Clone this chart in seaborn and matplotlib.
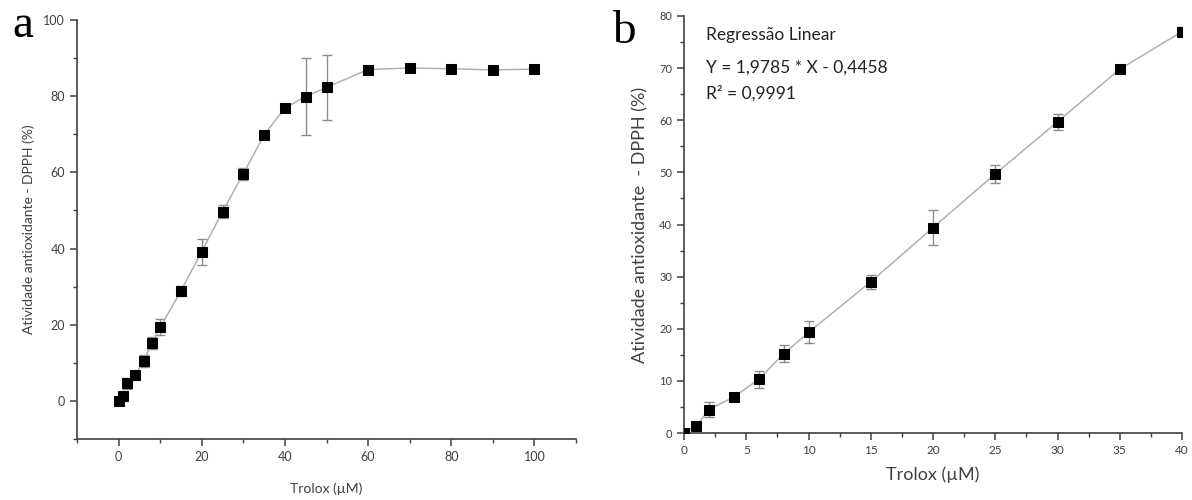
import numpy as np
import pandas as pd
import matplotlib
matplotlib.use('Agg')
import matplotlib.pyplot as plt
import seaborn as sns
from matplotlib.ticker import MultipleLocator

sns.set_theme(style='ticks')
plt.rcParams['font.family'] = ['Lato', 'DejaVu Sans']

# Panel a: full Trolox range
trolox_a = [0, 1, 2, 4, 6, 8, 10, 15, 20, 25, 30, 35, 40, 45, 50, 60, 70, 80, 90, 100]
dpph_a = [0.0, 1.3, 4.6, 6.9, 10.4, 15.2, 19.3, 28.9, 39.2, 49.7, 59.6, 69.8, 76.9,
          79.9, 82.3, 87.0, 87.4, 87.2, 86.9, 87.1]
err_a = [0.3, 0.4, 1.5, 0.5, 1.6, 1.6, 2.1, 1.3, 3.4, 1.7, 1.5, 0.5, 0.7,
         10.0, 8.5, 0.5, 0.4, 0.4, 0.4, 0.4]

# Panel b: linear range
trolox_b = [0, 1, 2, 4, 6, 8, 10, 15, 20, 25, 30, 35, 40]
dpph_b = [0.0, 1.3, 4.5, 6.9, 10.3, 15.2, 19.3, 29.0, 39.4, 49.7, 59.7, 69.8, 77.0]
err_b = [0.3, 0.4, 1.5, 0.5, 1.6, 1.6, 2.1, 1.3, 3.4, 1.7, 1.5, 0.5, 0.8]

df_a = pd.DataFrame({'x': trolox_a, 'y': dpph_a, 'err': err_a})
df_b = pd.DataFrame({'x': trolox_b, 'y': dpph_b, 'err': err_b})

LINE = '#b0b0b0'
ERR = '#8c8c8c'
AXC = '#404040'
TXT = '#404040'

fig = plt.figure(figsize=(11.92, 5), dpi=100)
ax_a = fig.add_axes([77 / 1192, (500 - 439) / 500, (576 - 77) / 1192, (439 - 20) / 500])
ax_b = fig.add_axes([684 / 1192, (500 - 433) / 500, (1182 - 684) / 1192, (433 - 16) / 500])


def draw(ax, df):
    ax.errorbar(df['x'], df['y'], yerr=df['err'], fmt='none', ecolor=ERR,
                elinewidth=1.0, capsize=3.5, capthick=1.0, zorder=2)
    sns.lineplot(data=df, x='x', y='y', ax=ax, color=LINE, linewidth=1.1,
                 marker='s', markersize=6.5, markerfacecolor='black',
                 markeredgecolor='black', zorder=3)
    sns.despine(ax=ax)
    for side in ['left', 'bottom']:
        ax.spines[side].set_color(AXC)
        ax.spines[side].set_linewidth(1.2)
    ax.tick_params(which='major', direction='out', length=5, width=1.1, color=AXC, labelcolor=TXT)
    ax.tick_params(which='minor', direction='out', length=3, width=1.0, color=AXC)
    ax.set_facecolor('white')


# panel a
draw(ax_a, df_a)
ax_a.set_xlim(-10, 110)
ax_a.set_ylim(-10, 100)
ax_a.xaxis.set_major_locator(MultipleLocator(20))
ax_a.xaxis.set_minor_locator(MultipleLocator(10))
ax_a.yaxis.set_major_locator(MultipleLocator(20))
ax_a.yaxis.set_minor_locator(MultipleLocator(10))
ax_a.set_xticks([0, 20, 40, 60, 80, 100])
ax_a.set_yticks([0, 20, 40, 60, 80, 100])
ax_a.tick_params(labelsize=9)
ax_a.set_xlabel('Trolox (µM)', fontsize=10, color=TXT, labelpad=14)
ax_a.set_ylabel('Atividade antioxidante - DPPH (%)', fontsize=10, color=TXT, labelpad=6)

# panel b
draw(ax_b, df_b)
ax_b.set_xlim(0, 40)
ax_b.set_ylim(0, 80)
ax_b.xaxis.set_major_locator(MultipleLocator(5))
ax_b.xaxis.set_minor_locator(MultipleLocator(2.5))
ax_b.yaxis.set_major_locator(MultipleLocator(10))
ax_b.yaxis.set_minor_locator(MultipleLocator(5))
ax_b.tick_params(axis='x', labelsize=8.5)
ax_b.tick_params(axis='y', labelsize=8)
ax_b.set_xlabel('Trolox (µM)', fontsize=13, color=TXT, labelpad=8)
ax_b.set_ylabel('Atividade antioxidante  - DPPH (%)', fontsize=13, color=TXT, labelpad=8)

ax_b.text(706 / 1192, 1 - 35 / 500, 'Regressão Linear', transform=fig.transFigure,
          fontsize=12.5, color='#222222', va='center', ha='left')
ax_b.text(706 / 1192, 1 - 68 / 500, 'Y = 1,9785 * X - 0,4458', transform=fig.transFigure,
          fontsize=12.5, color='#222222', va='center', ha='left')
ax_b.text(706 / 1192, 1 - 93 / 500, 'R² = 0,9991', transform=fig.transFigure,
          fontsize=12.5, color='#222222', va='center', ha='left')

# panel letters
fig.text(12 / 1192, 1 - 26 / 500, 'a', fontsize=34, family='Liberation Serif', va='center', ha='left', color='black')
fig.text(612 / 1192, 1 - 32 / 500, 'b', fontsize=34, family='Liberation Serif', va='center', ha='left', color='black')

fig.savefig('out.png', dpi=100, facecolor='white')
